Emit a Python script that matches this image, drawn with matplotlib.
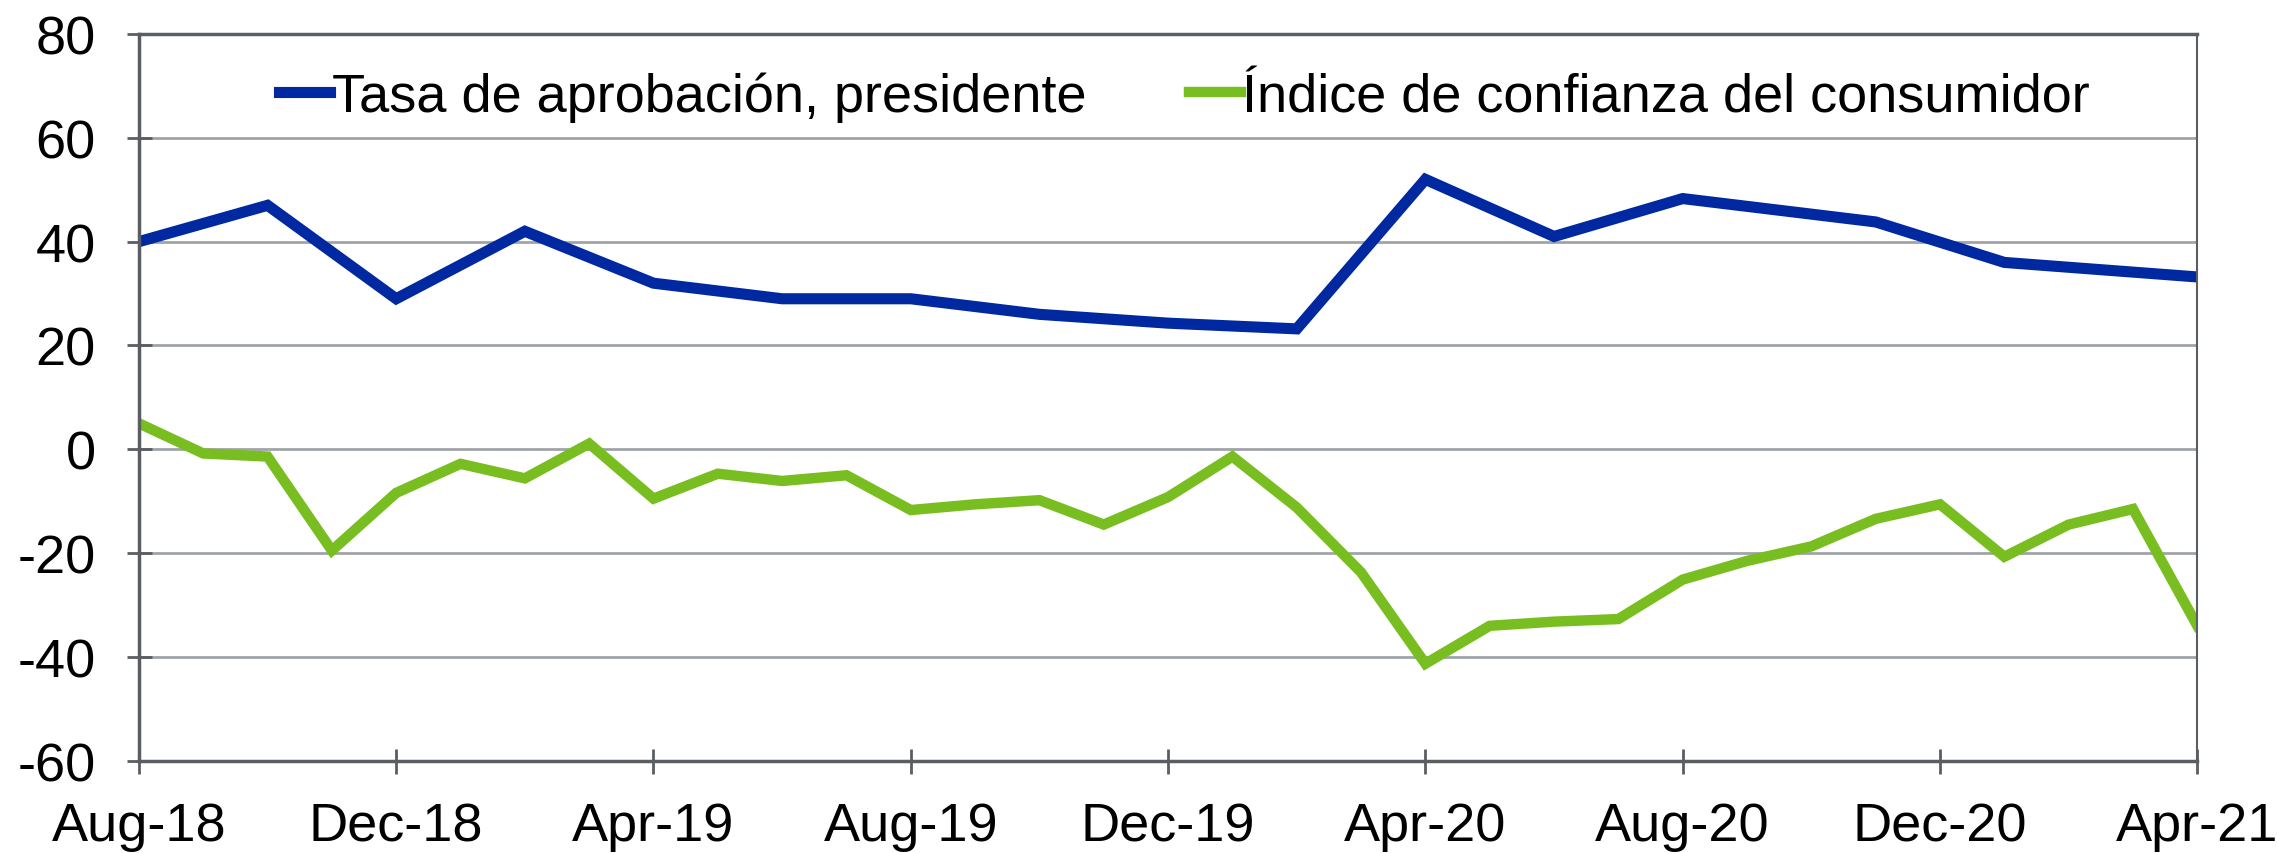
import matplotlib.pyplot as plt
import numpy as np

plt.rcParams['font.family'] = ['Liberation Sans', 'DejaVu Sans']
plt.rcParams['axes.unicode_minus'] = False

months = ["Aug-18", "Sep-18", "Oct-18", "Nov-18", "Dec-18", "Jan-19", "Feb-19", "Mar-19",
          "Apr-19", "May-19", "Jun-19", "Jul-19", "Aug-19", "Sep-19", "Oct-19", "Nov-19",
          "Dec-19", "Jan-20", "Feb-20", "Mar-20", "Apr-20", "May-20", "Jun-20", "Jul-20",
          "Aug-20", "Sep-20", "Oct-20", "Nov-20", "Dec-20", "Jan-21", "Feb-21", "Mar-21",
          "Apr-21"]

# approval rating, only surveyed in some months
approval_months = ["Aug-18", "Oct-18", "Dec-18", "Feb-19", "Apr-19", "Jun-19", "Aug-19",
                   "Oct-19", "Dec-19", "Feb-20", "Apr-20", "Jun-20", "Aug-20", "Nov-20",
                   "Jan-21", "Apr-21"]
approval = [40, 47, 29, 42, 32, 29, 29, 26, 24.3, 23.2, 52, 41, 48.3, 43.8, 36, 33.2]

# consumer confidence, monthly
confidence = [5, -0.8, -1.4, -19.5, -8.4, -2.8, -5.6, 1.1, -9.5, -4.7, -6.1, -5.0,
              -11.7, -10.6, -9.8, -14.5, -9.2, -1.4, -11.2, -23.7, -41.3, -34.0, -33.2,
              -32.7, -25.1, -21.5, -18.7, -13.4, -10.6, -20.7, -14.5, -11.5, -34.0]

x_all = np.arange(len(months))
x_appr = [months.index(m) for m in approval_months]

fig, ax = plt.subplots(figsize=(22.77, 8.54), dpi=100)
fig.subplots_adjust(left=0.061, right=0.965, top=0.959, bottom=0.108)

ax.plot(x_appr, approval, color="#0028A0", linewidth=8, solid_joinstyle="miter",
        label="Tasa de aprobación, presidente")
ax.plot(x_all, confidence, color="#78BE20", linewidth=7.5, solid_joinstyle="miter",
        label="Índice de confianza del consumidor")

ax.set_xlim(0, len(months) - 1)
ax.set_ylim(-60, 80)
ax.set_yticks(np.arange(-60, 81, 20))
ax.set_xticks(x_all[::4])
ax.set_xticklabels(months[::4])

ax.grid(axis="y", color="#A0A4A8", linewidth=2)
ax.set_axisbelow(True)
for s in ax.spines.values():
    s.set_color("#5A5E62")
    s.set_linewidth(2.5)
ax.spines["right"].set_linewidth(1.5)

ax.tick_params(axis="both", direction="inout", length=18, width=2, color="#5A5E62",
               labelsize=39)
ax.tick_params(axis="x", pad=20)
ax.tick_params(axis="y", pad=22)

ax.legend(loc="upper center", bbox_to_anchor=(0.508, 1.0), ncol=2, frameon=False,
          fontsize=39, handlelength=0.95, handletextpad=0.03, columnspacing=1.9,
          borderaxespad=0.3)

fig.savefig("out.png")
